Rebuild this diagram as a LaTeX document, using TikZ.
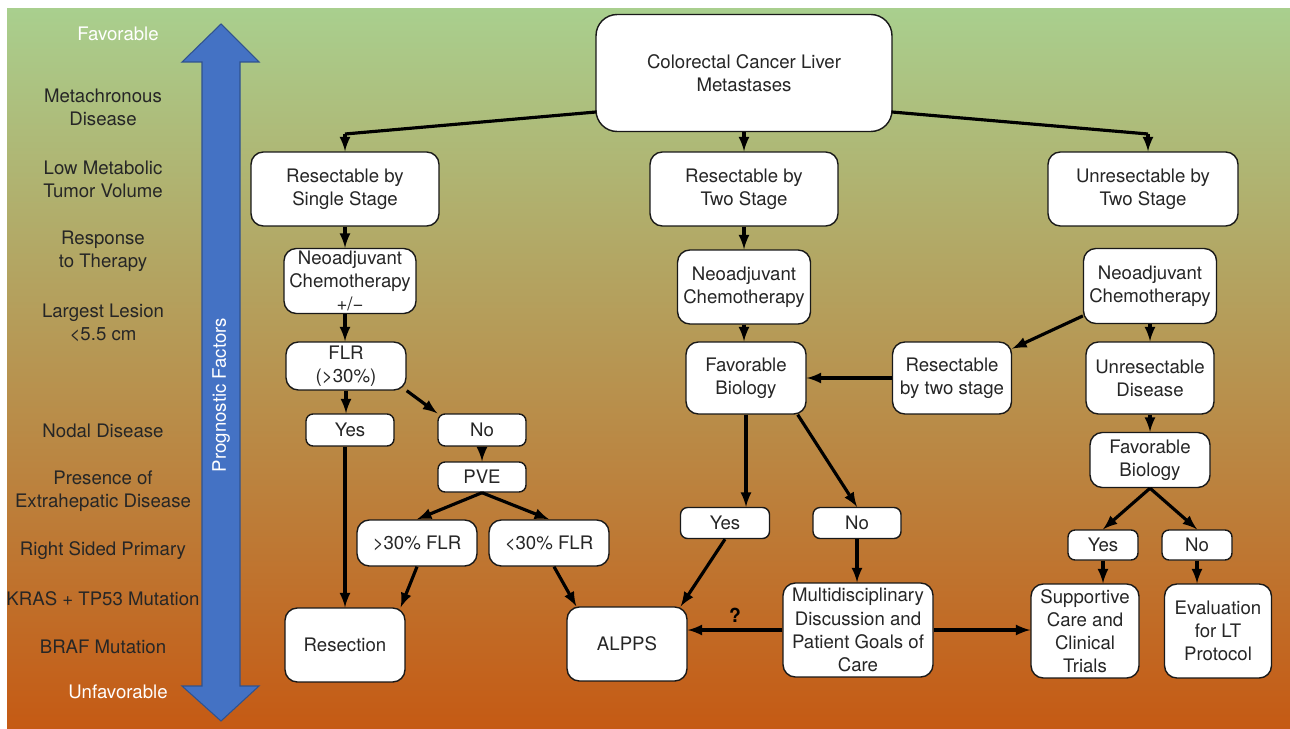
\documentclass[tikz,border=0pt]{standalone}
\usepackage{fontspec}
\setmainfont{TeX Gyre Heros}
\usetikzlibrary{arrows}
\definecolor{topgreen}{RGB}{169,207,142}
\definecolor{midtan}{RGB}{186,160,102}
\definecolor{botorange}{RGB}{197,90,20}
\definecolor{arrowblue}{RGB}{68,114,196}
\definecolor{arrowedge}{RGB}{47,82,143}
\definecolor{inktext}{RGB}{38,38,38}

\begin{document}
\begin{tikzpicture}[x=0.02cm, y=-0.02cm, ->,>=latex, line width=1.8pt, main node/.style={draw=black!90, fill=white, rounded corners=7pt, line width=0.8pt, align=center, text=inktext, inner sep=1pt, font=\fontsize{10.6}{13.2}\selectfont}, factor node/.style={align=center, text=inktext, font=\fontsize{10.6}{13.2}\selectfont}]
\useasboundingbox (0,0) rectangle (1290,729);
\shade[-, top color=topgreen, middle color=midtan, bottom color=botorange] (7,9) rectangle (1290,729);

% prognostic scale
\draw[-, fill=arrowblue, draw=arrowedge, line width=0.6pt] (202,686) -- (202,62) -- (182,62) -- (221,24) -- (259,62) -- (240,62) -- (240,686) -- (259,686) -- (221,721) -- (182,686) -- cycle;
\node [rotate=90, text=white, font=\fontsize{10.6}{13.2}\selectfont] (pf) at (221,395) {Prognostic Factors};

\node [factor node, text=white] (fav) at (118,34) {Favorable};
\node [factor node] (f1) at (103,107) {Metachronous\\Disease};
\node [factor node] (f2) at (103,179) {Low Metabolic\\Tumor Volume};
\node [factor node] (f3) at (103,251) {Response\\to Therapy};
\node [factor node] (f4) at (103,323) {Largest Lesion\\<5.5 cm};
\node [factor node] (f5) at (103,431) {Nodal Disease};
\node [factor node] (f6) at (103,491) {Presence of\\Extrahepatic Disease};
\node [factor node] (f7) at (103,551) {Right Sided Primary};
\node [factor node] (f8) at (103,599) {KRAS + TP53 Mutation};
\node [factor node] (f9) at (103,647) {BRAF Mutation};
\node [factor node, text=white] (unfav) at (118,692) {Unfavorable};

% flow chart
\node [main node, rounded corners=12pt, minimum width=5.92cm, minimum height=2.34cm] (root) at (744,73) {Colorectal Cancer Liver\\Metastases};

\node [main node, minimum width=3.76cm, minimum height=1.48cm] (single) at (345,189) {Resectable by\\Single Stage};
\node [main node, minimum width=3.76cm, minimum height=1.48cm] (two) at (744,189) {Resectable by\\Two Stage};
\node [main node, minimum width=3.8cm, minimum height=1.48cm] (unres) at (1143,189) {Unresectable by\\Two Stage};

\node [main node, minimum width=2.64cm, minimum height=1.3cm] (neoA) at (350,281) {Neoadjuvant\\Chemotherapy\\+/−};
\node [main node, minimum width=2.4cm, minimum height=0.96cm] (flr) at (346,366) {FLR\\(>30\%)};
\node [main node, rounded corners=4pt, minimum width=1.76cm, minimum height=0.64cm] (yesA) at (350,430) {Yes};
\node [main node, rounded corners=4pt, minimum width=1.76cm, minimum height=0.64cm] (noA) at (482,430) {No};
\node [main node, rounded corners=4pt, minimum width=1.76cm, minimum height=0.6cm] (pve) at (482,477) {PVE};
\node [main node, minimum width=2.4cm, minimum height=0.92cm] (gtflr) at (417,543) {>30\% FLR};
\node [main node, minimum width=2.4cm, minimum height=0.92cm] (ltflr) at (549,543) {<30\% FLR};
\node [main node, minimum width=2.4cm, minimum height=1.48cm] (resect) at (345,645) {Resection};
\node [main node, minimum width=2.4cm, minimum height=1.48cm] (alpps) at (627,644) {ALPPS};

\node [main node, minimum width=2.66cm, minimum height=1.48cm] (neoB) at (744,287) {Neoadjuvant\\Chemotherapy};
\node [main node, minimum width=2.4cm, minimum height=1.44cm] (bioB) at (746,378) {Favorable\\Biology};
\node [main node, minimum width=2.38cm, minimum height=1.44cm] (twostage) at (952,378) {Resectable\\by two stage};
\node [main node, rounded corners=4pt, minimum width=1.78cm, minimum height=0.62cm] (yesB) at (725,523) {Yes};
\node [main node, rounded corners=4pt, minimum width=1.76cm, minimum height=0.62cm] (noB) at (857,523) {No};
\node [main node, minimum width=3.0cm, minimum height=1.88cm] (mdt) at (858,630) {Multidisciplinary\\Discussion and\\Patient Goals of\\Care};

\node [main node, minimum width=2.66cm, minimum height=1.5cm] (neoC) at (1150,286) {Neoadjuvant\\Chemotherapy};
\node [main node, minimum width=2.56cm, minimum height=1.44cm] (disease) at (1150,378) {Unresectable\\Disease};
\node [main node, minimum width=2.4cm, minimum height=1.1cm] (bioC) at (1150,460) {Favorable\\Biology};
\node [main node, rounded corners=4pt, minimum width=1.4cm, minimum height=0.6cm] (yesC) at (1103,545) {Yes};
\node [main node, rounded corners=4pt, minimum width=1.4cm, minimum height=0.6cm] (noC) at (1197,545) {No};
\node [main node, minimum width=2.16cm, minimum height=1.88cm] (support) at (1085,631) {Supportive\\Care and\\Clinical\\Trials};
\node [main node, minimum width=2.14cm, minimum height=1.88cm] (evalLT) at (1218,631) {Evaluation\\for LT\\Protocol};

% connectors
\coordinate (rootL) at (596,112);
\coordinate (rootR) at (892,112);
\coordinate (kneeL) at (345,134);
\coordinate (kneeR) at (1148,134);
\draw[-] (rootL) -- (kneeL);
\draw (kneeL) -- (single);
\draw[-] (rootR) -- (kneeR);
\draw (kneeR) -- (kneeR |- unres.north);
\draw (root) -- (two);

\draw (single) -- (single |- neoA.north);
\draw (single |- neoA.south) -- (single |- flr.north);
\draw (flr.south) -- (flr.south |- yesA.north);
\draw (flr.south east) -- (noA.north west);
\draw (noA) -- (pve);
\draw (pve.south) -- (gtflr.north);
\draw (pve.south) -- (ltflr.north);
\draw (single |- yesA.south) -- (resect);
\draw (gtflr.south) -- ([xshift=-0.1cm]resect.north east);
\draw ([xshift=0.1cm]ltflr.south) -- ([xshift=0.2cm]alpps.north west);

\draw (two) -- (neoB);
\draw (neoB) -- (neoB |- bioB.north);
\draw (twostage) -- (bioB);
\draw (bioB.south) -- (bioB.south |- yesB.north);
\draw ([xshift=-0.18cm]bioB.south east) -- (noB.north);
\draw (yesB.south) -- ([xshift=-0.14cm]alpps.north east);
\draw (noB) -- (noB |- mdt.north);
\draw (mdt.west) -- node[above, text=black, font=\bfseries\fontsize{11}{13}\selectfont] (qmark) {?} (mdt.west -| alpps.east);
\draw (mdt.east) -- (mdt.east -| support.west);

\draw (neoC.204) -- (twostage.26);
\draw (neoC) -- (disease);
\draw (disease) -- (bioC);
\draw (bioC.south) -- (yesC.north);
\draw (bioC.south) -- (noC.north);
\draw (yesC) -- (support.north -| yesC);
\draw (noC) -- (evalLT.north -| noC);
\end{tikzpicture}
\end{document}
